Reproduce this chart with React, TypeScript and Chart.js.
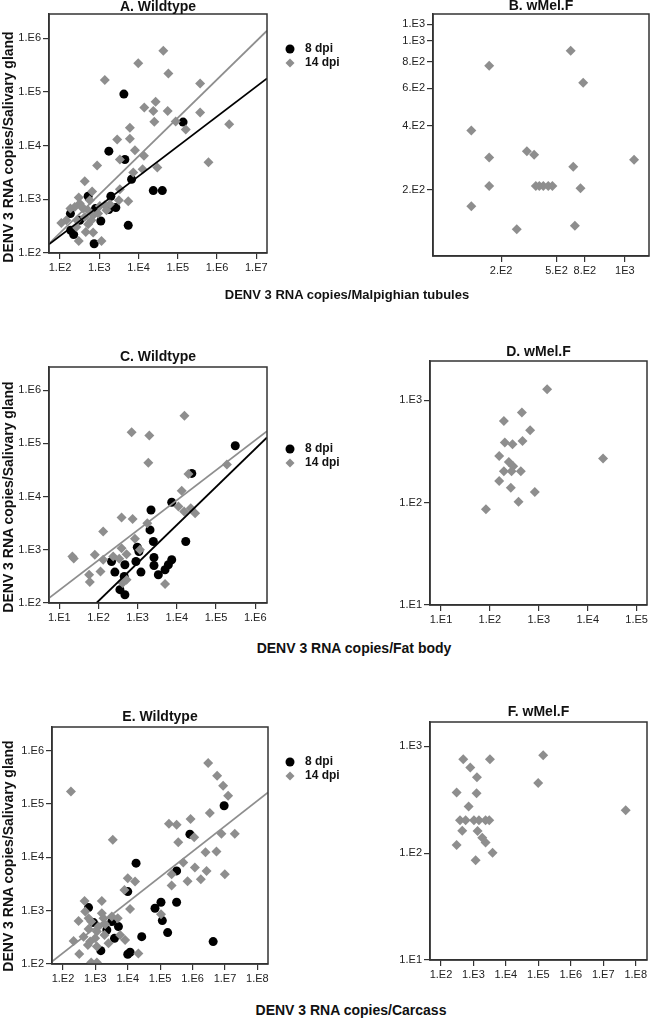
import React, { useEffect, useRef } from "react";
import { Chart, registerables } from "chart.js";

Chart.register(...registerables);

const FONT = '"Liberation Sans", Arial, Helvetica, sans-serif';
const GREY = "#8e8e8e";
const BLACK = "#000000";

// ---------- tick values / labels ----------
const ticksE1toE6 = [10, 1e2, 1e3, 1e4, 1e5, 1e6];
const labelsE1toE6 = ["1.E1", "1.E2", "1.E3", "1.E4", "1.E5", "1.E6"];
const ticksE2toE7 = [1e2, 1e3, 1e4, 1e5, 1e6, 1e7];
const labelsE2toE7 = ["1.E2", "1.E3", "1.E4", "1.E5", "1.E6", "1.E7"];
const ticksE2toE8 = [1e2, 1e3, 1e4, 1e5, 1e6, 1e7, 1e8];
const labelsE2toE8 = ["1.E2", "1.E3", "1.E4", "1.E5", "1.E6", "1.E7", "1.E8"];
const ticksE2toE6 = [1e2, 1e3, 1e4, 1e5, 1e6];
const labelsE2toE6 = ["1.E2", "1.E3", "1.E4", "1.E5", "1.E6"];
const ticksE1toE5 = [10, 1e2, 1e3, 1e4, 1e5];
const labelsE1toE5 = ["1.E1", "1.E2", "1.E3", "1.E4", "1.E5"];
const ticksE1toE3 = [10, 1e2, 1e3];
const labelsE1toE3 = ["1.E1", "1.E2", "1.E3"];
const ticksBx = [200, 500, 800, 1550];
const labelsBx = ["2.E2", "5.E2", "8.E2", "1E3"];
const ticksBy = [200, 400, 600, 800, 1000, 1200];
const labelsBy = ["2.E2", "4.E2", "6.E2", "8.E2", "1.E3", "1.E3"];

// ---------- Panel A: Malpighian tubules, wildtype ----------
const panelA_8dpi = [[4236,91400],[136400,27470],[1754,7890],[4490,5520],[6650,2370],[23780,1457],[40360,1457],[1972,1142],[520,1142],[184,542],[800,672],[1754,644],[2644,702],[1094,395],[5470,328],[187,265],[223,220],[740,149],[318,407]];
const panelA_14dpi = [[42850,588800],[9840,341500],[1385,166700],[57540,222300],[370700,144500],[27300,65770],[14020,51520],[23790,44040],[55300,44040],[88530,28250],[159500,20040],[2040000,25190],[370700,41590],[25230,27850],[6030,21530],[2862,13030],[6030,13420],[8090,8240],[13740,6460],[605300,4920],[3350,5520],[12700,3640],[30130,3915],[7330,3157],[882,4265],[427,2175],[657,1396],[300,1079],[318,833],[237,722],[184,672],[387,672],[520,625],[697,505],[1032,754],[1385,776],[1858,809],[3155,962],[5470,921],[3350,1542],[427,470],[632,407],[520,343],[261,305],[145,407],[108,363],[453,247],[697,240],[300,167],[1138,167],[272,407],[935,542],[1528,625],[351,743],[573,962]];
const fitA_8dpi = [[52.4,145],[1.875e7,179500]];
const fitA_14dpi = [[52.4,149],[1.875e7,1390000]];

// ---------- Panel B: Malpighian tubules, wMel.F ----------
const panelB_14dpi = [[164,766],[632,901],[778,638],[122,380],[164,284],[306,304],[345,293],[1806,277],[660,257],[164,209],[355,209],[376,209],[402,209],[436,209],[467,209],[744,204],[122,168],[259,131],[678,136]];

// ---------- Panel C: Fat body, wildtype ----------
const panelC_8dpi = [[309000,90360],[24040,27380],[7390,7830],[2188,5620],[2063,2370],[2508,1432],[16860,1432],[977,1122],[1077,931],[215,604],[262,381],[472,523],[903,604],[2606,718],[2606,508],[7390,649],[6070,523],[4990,422],[3370,340],[1213,381],[454,316],[352,178],[472,143]];
const panelC_14dpi = [[15600,330300],[700,163100],[1982,141300],[1868,43400],[189200,40370],[19720,26600],[13300,12960],[10960,6494],[15300,5234],[22630,6040],[29240,4870],[388,4040],[742,3812],[1762,3162],[131.6,2207],[851,1607],[21.6,750],[23.4,688],[80.5,805],[131.6,649],[237,750],[388,1074],[521,829],[1143,1000],[112.5,392],[57.7,340],[60,248],[521,274],[4990,227],[339,678],[412,237]];
const fitC_8dpi = [[88.9,100],[1.995e6,129600]];
const fitC_14dpi = [[5.46,124],[1.995e6,170200]];

// ---------- Panel D: Fat body, wMel.F ----------
const panelD_14dpi = [[1479,1280],[450,758],[193,629],[665,510],[202,386],[290,372],[464,401],[155,286],[244,250],[299,227],[193,203],[277,203],[429,203],[155,163],[268,140],[828,127],[385,102],[83,86.4],[20560,270]];

// ---------- Panel E: Carcass, wildtype ----------
const panelE_8dpi = [[9.42e6,92700],[828000,27230],[322000,5570],[18050,7770],[10000,2281],[616,1143],[322000,1439],[106000,1439],[69300,1110],[116700,651],[170200,388],[26980,326],[4.32e6,263],[10000,152],[11800,166],[1476,178],[3890,303],[5160,503],[3220,624],[2259,435],[879,597]];
const panelE_14dpi = [[176,172300],[3.03e6,586600],[5.74e6,339400],[8.79e6,220300],[1.25e7,142900],[3.41e6,67500],[867000,52100],[187000,42550],[322000,40760],[362000,19270],[1.125e6,23930],[7.8e6,27620],[2.01e7,27620],[516000,8000],[1.18e6,6440],[2.51e6,12500],[5.47e6,12880],[2.7e6,5570],[1.8e6,3890],[701000,3567],[226000,4830],[226000,2958],[9.88e6,4830],[3450,21330],[10000,4060],[16820,3517],[7890,2453],[464,1525],[1585,1525],[11800,1079],[486,961],[303,642],[745,624],[1783,721],[2009,556],[3220,774],[4920,721],[616,454],[1112,405],[432,326],[693,263],[988,303],[1914,350],[5810,350],[8280,282],[2541,244],[1112,212],[588,227],[213,270],[318,154],[21280,158],[745,107],[1112,107],[106000,857],[1250,503],[1585,894],[616,721]];
const fitE_14dpi = [[45.9,110.6],[2.13e8,165200]];

// ---------- Panel F: Carcass, wMel.F ----------
const panelF_14dpi = [[486,756],[3220,756],[140900,824],[800,632],[1282,513],[98800,454],[303,369],[1250,364],[710,273],[4.92e7,252],[385,203],[574,203],[1035,203],[1476,203],[2366,203],[3070,203],[453,162],[1343,161],[1871,139],[2366,126],[303,119],[3890,101],[1167,86]];

type Spec = {
  id: string;
  title: string;
  canvas: { left: number; top: number; width: number; height: number };
  frame: { l: number; r: number; t: number; b: number };
  titleY: number;
  xMin: number; xMax: number; yMin: number; yMax: number;
  xTicks: number[]; xLabels: string[]; yTicks: number[]; yLabels: string[];
  s8?: number[][]; s14: number[][]; fit8?: number[][]; fit14?: number[][];
  legendY?: number;
};

const YW = 40;
const XH = 30;

const specs: Spec[] = [
  { id: "A", title: "A. Wildtype", canvas: { left: 0, top: 0, width: 370, height: 290 },
    frame: { l: 49, r: 267, t: 14, b: 253 }, titleY: 7,
    xMin: 52.4, xMax: 1.875e7, yMin: 100, yMax: 2.84e6,
    xTicks: ticksE2toE7, xLabels: labelsE2toE7, yTicks: ticksE2toE6, yLabels: labelsE2toE6,
    s8: panelA_8dpi, s14: panelA_14dpi, fit8: fitA_8dpi, fit14: fitA_14dpi, legendY: 49 },
  { id: "B", title: "B. wMel.F", canvas: { left: 330, top: 0, width: 327, height: 290 },
    frame: { l: 433, r: 649, t: 14, b: 256 }, titleY: 6,
    xMin: 64.7, xMax: 2312, yMin: 98, yMax: 1340,
    xTicks: ticksBx, xLabels: labelsBx, yTicks: ticksBy, yLabels: labelsBy,
    s14: panelB_14dpi },
  { id: "C", title: "C. Wildtype", canvas: { left: 0, top: 340, width: 370, height: 300 },
    frame: { l: 49, r: 267, t: 367, b: 603 }, titleY: 357.5,
    xMin: 5.46, xMax: 1.995e6, yMin: 100, yMax: 2.74e6,
    xTicks: ticksE1toE6, xLabels: labelsE1toE6, yTicks: ticksE2toE6, yLabels: labelsE2toE6,
    s8: panelC_8dpi, s14: panelC_14dpi, fit8: fitC_8dpi, fit14: fitC_14dpi, legendY: 449 },
  { id: "D", title: "D. wMel.F", canvas: { left: 330, top: 340, width: 327, height: 300 },
    frame: { l: 430, r: 647, t: 361, b: 605 }, titleY: 352,
    xMin: 5.97, xMax: 162600, yMin: 10, yMax: 2421,
    xTicks: ticksE1toE5, xLabels: labelsE1toE5, yTicks: ticksE1toE3, yLabels: labelsE1toE3,
    s14: panelD_14dpi },
  { id: "E", title: "E. Wildtype", canvas: { left: 0, top: 700, width: 370, height: 300 },
    frame: { l: 52, r: 268, t: 727, b: 964 }, titleY: 717,
    xMin: 45.9, xMax: 2.13e8, yMin: 100, yMax: 2.78e6,
    xTicks: ticksE2toE8, xLabels: labelsE2toE8, yTicks: ticksE2toE6, yLabels: labelsE2toE6,
    s8: panelE_8dpi, s14: panelE_14dpi, fit14: fitE_14dpi, legendY: 762 },
  { id: "F", title: "F. wMel.F", canvas: { left: 330, top: 700, width: 327, height: 300 },
    frame: { l: 430, r: 647, t: 722, b: 960 }, titleY: 712,
    xMin: 45.9, xMax: 2.23e8, yMin: 10, yMax: 1687,
    xTicks: ticksE2toE8, xLabels: labelsE2toE8, yTicks: ticksE1toE3, yLabels: labelsE1toE3,
    s14: panelF_14dpi },
];

const toPts = (arr: number[][]) => arr.map(([x, y]) => ({ x, y }));

function axis(min: number, max: number, ticks: number[], labels: string[], horizontal: boolean) {
  return {
    type: "logarithmic" as const,
    position: horizontal ? "bottom" : "left",
    min, max, bounds: "data",
    afterBuildTicks: (s: any) => { s.ticks = ticks.map((v) => ({ value: v })); },
    afterFit: (s: any) => { if (horizontal) s.height = XH; else s.width = YW; },
    ticks: {
      autoSkip: false, maxRotation: 0, minRotation: 0, padding: 2,
      color: "#222", font: { family: FONT, size: 11 },
      callback: (v: any) => { const i = ticks.indexOf(Number(v)); return i >= 0 ? labels[i] : ""; },
    },
    grid: { display: true, drawOnChartArea: false, drawTicks: true, tickLength: 6, color: "#333", lineWidth: 1.2 },
    border: { display: true, color: "#333", width: 1.5 },
  };
}

function Panel({ spec }: { spec: Spec }) {
  const ref = useRef<HTMLCanvasElement>(null);
  useEffect(() => {
    if (!ref.current) return;
    const c = spec.canvas;
    const fl = spec.frame.l - c.left, fr = spec.frame.r - c.left;
    const ft = spec.frame.t - c.top, fb = spec.frame.b - c.top;
    const datasets: any[] = [];
    if (spec.fit8) datasets.push({ label: "fit8", data: toPts(spec.fit8), showLine: true, borderColor: BLACK, borderWidth: 1.8, pointRadius: 0, order: 0 });
    if (spec.fit14) datasets.push({ label: "fit14", data: toPts(spec.fit14), showLine: true, borderColor: GREY, borderWidth: 1.8, pointRadius: 0, order: 0 });
    if (spec.s8) datasets.push({ label: "8 dpi", data: toPts(spec.s8), pointStyle: "circle", pointRadius: 4.5, backgroundColor: BLACK, borderWidth: 0, order: 2 });
    datasets.push({ label: "14 dpi", data: toPts(spec.s14), pointStyle: "rectRot", pointRadius: 5, backgroundColor: GREY, borderWidth: 0, order: 1 });

    const decor = {
      id: "decor" + spec.id,
      afterDraw(chart: any) {
        const { ctx, chartArea: a } = chart;
        ctx.save();
        ctx.strokeStyle = "#333";
        ctx.lineWidth = 1.5;
        ctx.strokeRect(a.left, a.top, a.right - a.left, a.bottom - a.top);
        ctx.fillStyle = "#111";
        ctx.font = `bold 14px ${FONT}`;
        ctx.textAlign = "center";
        ctx.textBaseline = "middle";
        ctx.fillText(spec.title, (a.left + a.right) / 2, spec.titleY - c.top);
        if (spec.legendY !== undefined) {
          const ly = spec.legendY - c.top;
          const mx = 290 - c.left;
          ctx.fillStyle = BLACK;
          ctx.beginPath();
          ctx.arc(mx, ly, 4.5, 0, Math.PI * 2);
          ctx.fill();
          ctx.fillStyle = GREY;
          ctx.beginPath();
          ctx.moveTo(mx - 4.5, ly + 14);
          ctx.lineTo(mx, ly + 9.5);
          ctx.lineTo(mx + 4.5, ly + 14);
          ctx.lineTo(mx, ly + 18.5);
          ctx.closePath();
          ctx.fill();
          ctx.fillStyle = "#111";
          ctx.font = `bold 12px ${FONT}`;
          ctx.textAlign = "left";
          ctx.fillText("8 dpi", mx + 15, ly);
          ctx.fillText("14 dpi", mx + 15, ly + 14);
        }
        ctx.restore();
      },
    };

    const chart = new Chart(ref.current, {
      type: "scatter",
      data: { datasets },
      options: {
        animation: false,
        responsive: false,
        maintainAspectRatio: false,
        layout: {
          autoPadding: false,
          padding: { left: fl - YW, top: ft, right: c.width - fr, bottom: c.height - fb - XH },
        },
        plugins: { legend: { display: false }, title: { display: false }, tooltip: { enabled: false } },
        scales: {
          x: axis(spec.xMin, spec.xMax, spec.xTicks, spec.xLabels, true) as any,
          y: axis(spec.yMin, spec.yMax, spec.yTicks, spec.yLabels, false) as any,
        },
      },
      plugins: [decor],
    });
    return () => chart.destroy();
  }, [spec]);
  const c = spec.canvas;
  return (
    <canvas
      ref={ref}
      width={c.width}
      height={c.height}
      style={{ position: "absolute", left: c.left, top: c.top, width: c.width, height: c.height }}
    />
  );
}

const titleBase: React.CSSProperties = {
  position: "absolute",
  whiteSpace: "nowrap",
  fontFamily: FONT,
  fontWeight: "bold",
  fontSize: 14,
  lineHeight: "16px",
  color: "#111",
};

function XTitle({ x, y, text, size }: { x: number; y: number; text: string; size?: number }) {
  return <div style={{ ...titleBase, fontSize: size ?? 14, left: x, top: y, transform: "translate(-50%, -50%)" }}>{text}</div>;
}
function YTitle({ x, y, text }: { x: number; y: number; text: string }) {
  return <div style={{ ...titleBase, left: x, top: y, transform: "translate(-50%, -50%) rotate(-90deg)" }}>{text}</div>;
}

export default function App() {
  return (
    <div style={{ position: "absolute", left: 0, top: 0, width: 657, height: 1019, background: "#fff", overflow: "hidden" }}>
      {specs.map((s) => (
        <Panel key={s.id} spec={s} />
      ))}
      <YTitle x={8} y={147} text="DENV 3 RNA copies/Salivary gland" />
      <YTitle x={8} y={497} text="DENV 3 RNA copies/Salivary gland" />
      <YTitle x={8} y={856} text="DENV 3 RNA copies/Salivary gland" />
      <XTitle x={347} y={295} size={13} text="DENV 3 RNA copies/Malpighian tubules" />
      <XTitle x={354} y={648} text="DENV 3 RNA copies/Fat body" />
      <XTitle x={351} y={1010} text="DENV 3 RNA copies/Carcass" />
    </div>
  );
}
